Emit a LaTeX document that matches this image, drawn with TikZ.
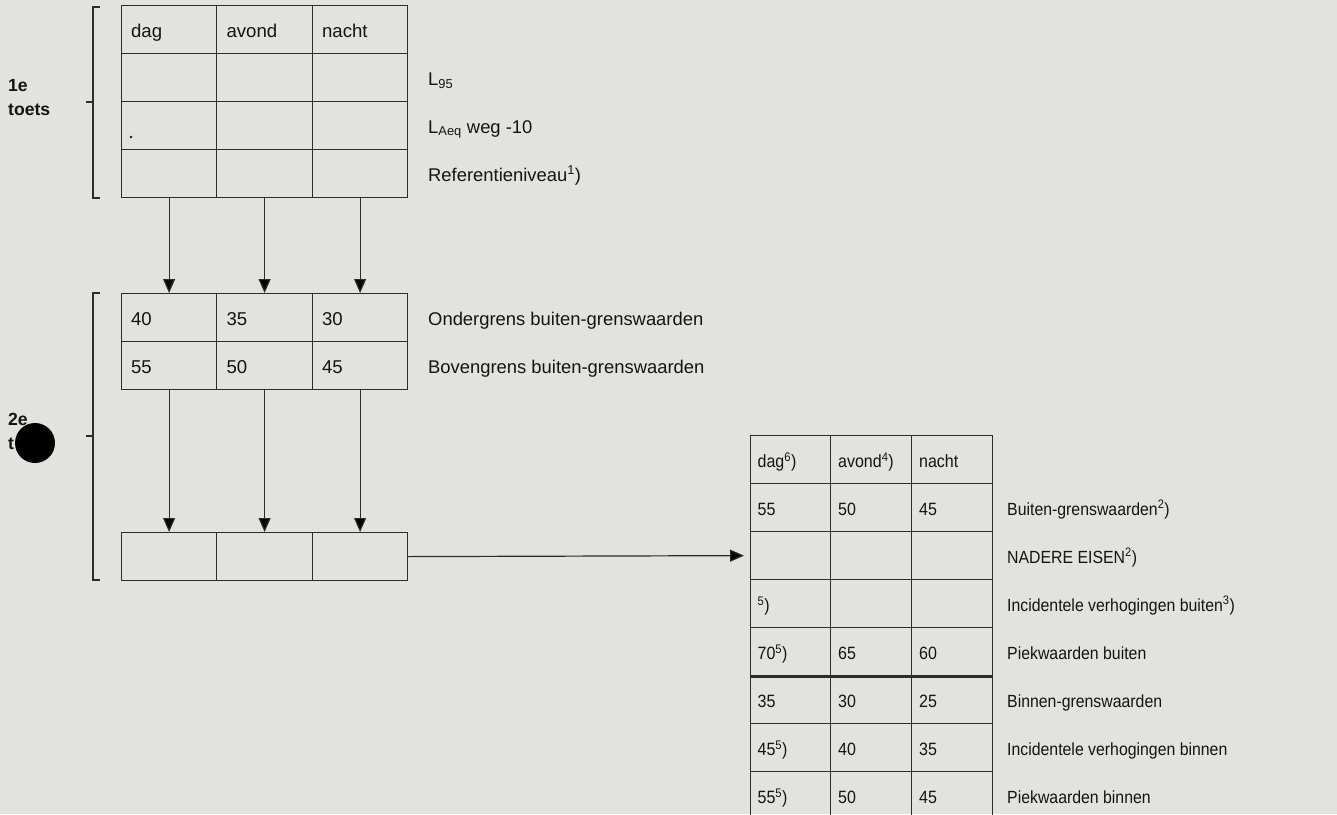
\documentclass[tikz,border=0pt]{standalone}
\usepackage{fontspec}
\setmainfont{Liberation Sans}
\newfontfamily\narrowfont[FakeStretch=0.9]{Liberation Sans}
\usetikzlibrary{arrows.meta}
\definecolor{bg}{HTML}{E2E3DF}
\definecolor{linec}{HTML}{2C2C2C}
\definecolor{txt}{HTML}{141414}
\begin{document}
\begin{tikzpicture}[x=1pt,y=-1pt,
  lcell/.style={draw=linec, line width=1.2pt, anchor=north west, minimum width=#1,
    minimum height=48pt, inner xsep=9.5pt, inner ysep=0pt, text width=76pt, align=left,
    text height=18pt, text depth=2pt, font=\fontsize{18.6}{22}\selectfont, text=txt},
  rcell/.style={draw=linec, line width=1.2pt, anchor=north west, minimum width=#1,
    minimum height=48pt, inner xsep=7pt, inner ysep=0pt, text width=66pt, align=left,
    text height=18pt, text depth=2pt, font=\narrowfont\fontsize{17.8}{21}\selectfont, text=txt},
  llab/.style={anchor=west, inner sep=0pt, text height=18pt, text depth=2pt,
    font=\fontsize{18.4}{22}\selectfont, text=txt},
  rlab/.style={anchor=west, inner sep=0pt, text height=18pt, text depth=2pt,
    font=\narrowfont\fontsize{17.6}{21}\selectfont, text=txt},
  side/.style={anchor=base west, inner sep=0pt, font=\bfseries\fontsize{17.6}{21}\selectfont, text=txt},
  brk/.style={draw=linec, line width=1.2pt},
  arr/.style={draw=linec, line width=1.2pt, -{Triangle[width=12pt,length=14pt,fill=black]}}
]
\useasboundingbox (0,0) rectangle (1337,814);
\fill[bg] (0,0) rectangle (1337,814);
\clip (0,0) rectangle (1337,814);

% brackets
\draw[brk] (100,7) -- (93,7) -- (93,198) -- (100,198);
\draw[brk] (93,102) -- (86,102);
\draw[brk] (100,293) -- (93,293) -- (93,580) -- (100,580);
\draw[brk] (93,436) -- (86,436);

% side labels
\node[side] (s1) at (8,91) {1e};
\node[side] (s2) at (8,115) {toets};
\node[side] (s3) at (8,425) {2e};
\node[side] (s4) at (8,449) {t};
\fill[black] (35,443) circle (20);

% top table
\node[lcell=95pt] (t1a) at (121,5) {dag};
\node[lcell=96pt] (t1b) at (216,5) {avond};
\node[lcell=95pt] (t1c) at (312,5) {nacht};
\node[lcell=95pt] (t2a) at (121,53) {};
\node[lcell=96pt] (t2b) at (216,53) {};
\node[lcell=95pt] (t2c) at (312,53) {};
\node[lcell=95pt] (t3a) at (121,101) {};
\node[lcell=96pt] (t3b) at (216,101) {};
\node[lcell=95pt] (t3c) at (312,101) {};
\node[lcell=95pt] (t4a) at (121,149) {};
\node[lcell=96pt] (t4b) at (216,149) {};
\node[lcell=95pt] (t4c) at (312,149) {};
\fill[txt] (131,137) circle (1.4);

\node[llab] (l1) at (428,77) {L\textsubscript{95}};
\node[llab] (l2) at (428,125) {L\textsubscript{Aeq} weg -10};
\node[llab] (l3) at (428,173) {Referentieniveau\textsuperscript{1})};

% middle table
\node[lcell=95pt] (m1a) at (121,293) {40};
\node[lcell=96pt] (m1b) at (216,293) {35};
\node[lcell=95pt] (m1c) at (312,293) {30};
\node[lcell=95pt] (m2a) at (121,341) {55};
\node[lcell=96pt] (m2b) at (216,341) {50};
\node[lcell=95pt] (m2c) at (312,341) {45};
\node[llab] (l4) at (428,317) {Ondergrens buiten-grenswaarden};
\node[llab] (l5) at (428,365) {Bovengrens buiten-grenswaarden};

% bottom table
\node[lcell=95pt] (b1a) at (121,532) {};
\node[lcell=96pt] (b1b) at (216,532) {};
\node[lcell=95pt] (b1c) at (312,532) {};

% arrows
\draw[arr] (t4a.south) -- (m1a.north);
\draw[arr] (t4b.south) -- (m1b.north);
\draw[arr] (t4c.south) -- (m1c.north);
\draw[arr] (m2a.south) -- (b1a.north);
\draw[arr] (m2b.south) -- (b1b.north);
\draw[arr] (m2c.south) -- (b1c.north);

% right table
\node[rcell=80pt] (r1a) at (750,435) {dag\textsuperscript{6})};
\node[rcell=81pt] (r1b) at (830,435) {avond\textsuperscript{4})};
\node[rcell=81pt] (r1c) at (911,435) {nacht};
\node[rcell=80pt] (r2a) at (750,483) {55};
\node[rcell=81pt] (r2b) at (830,483) {50};
\node[rcell=81pt] (r2c) at (911,483) {45};
\node[rcell=80pt] (r3a) at (750,531) {};
\node[rcell=81pt] (r3b) at (830,531) {};
\node[rcell=81pt] (r3c) at (911,531) {};
\node[rcell=80pt] (r4a) at (750,579) {\textsuperscript{5})};
\node[rcell=81pt] (r4b) at (830,579) {};
\node[rcell=81pt] (r4c) at (911,579) {};
\node[rcell=80pt] (r5a) at (750,627) {70\textsuperscript{5})};
\node[rcell=81pt] (r5b) at (830,627) {65};
\node[rcell=81pt] (r5c) at (911,627) {60};
\node[rcell=80pt] (r6a) at (750,675) {35};
\node[rcell=81pt] (r6b) at (830,675) {30};
\node[rcell=81pt] (r6c) at (911,675) {25};
\node[rcell=80pt] (r7a) at (750,723) {45\textsuperscript{5})};
\node[rcell=81pt] (r7b) at (830,723) {40};
\node[rcell=81pt] (r7c) at (911,723) {35};
\node[rcell=80pt] (r8a) at (750,771) {55\textsuperscript{5})};
\node[rcell=81pt] (r8b) at (830,771) {50};
\node[rcell=81pt] (r8c) at (911,771) {45};
\draw[linec, line width=3pt] (r5a.south west) -- (r5c.south east);

\node[rlab] (q2) at (1007,507) {Buiten-grenswaarden\textsuperscript{2})};
\node[rlab] (q3) at (1007,555) {NADERE EISEN\textsuperscript{2})};
\node[rlab] (q4) at (1007,603) {Incidentele verhogingen buiten\textsuperscript{3})};
\node[rlab] (q5) at (1007,651) {Piekwaarden buiten};
\node[rlab] (q6) at (1007,699) {Binnen-grenswaarden};
\node[rlab] (q7) at (1007,747) {Incidentele verhogingen binnen};
\node[rlab] (q8) at (1007,795) {Piekwaarden binnen};

% horizontal arrow
\draw[arr, shorten >=6pt] (b1c.east) -- (r3a.west);
\end{tikzpicture}
\end{document}
